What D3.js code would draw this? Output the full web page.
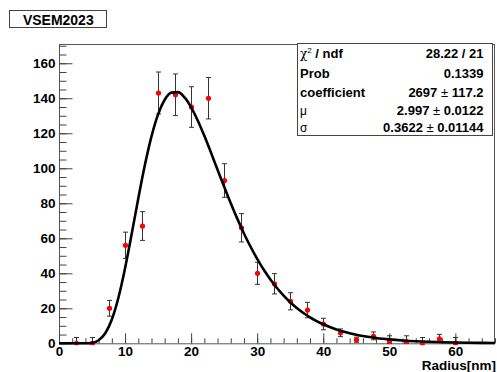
<!DOCTYPE html>
<html><head><meta charset="utf-8">
<script src="https://cdn.jsdelivr.net/npm/d3@7/dist/d3.min.js"></script>
<style>
html,body{margin:0;padding:0;background:#fff;}
svg{display:block;font-family:"Liberation Sans",Arial,Helvetica,sans-serif;}
</style></head>
<body>
<script>
// ---- data ----
const title = "VSEM2023";
const xLabel = "Radius[nm]";
const binCenters = [2.5,5,7.5,10,12.5,15,17.5,20,22.5,25,27.5,30,32.5,35,37.5,40,42.5,45,47.5,50,52.5,55,57.5,60];
const counts     = [0,0,20,56,67,143,142,135,140,93,66,40,34,24,19,11,6,2,4,1,1,0,2.5,0];
const errUp      = [3.3,3.3,4.5,7.5,8.2,12,11.9,11.6,11.8,9.6,8.1,6.3,5.8,4.9,4.4,3.3,2.2,1.5,2.5,3.3,3.3,3.3,2.6,3.3];
const errDown    = [0,0,4.5,7.5,8.2,12,11.9,11.6,11.8,9.6,8.1,6.3,5.8,4.9,4.4,3.3,2.2,1.4,2,1,1,0,1.9,0];
// fitted curve samples (as drawn)
const fitX = [0,1,2,3,4,5,6,7,8,9,10,11,12,13,14,15,16,17,18,19,20,21,22,23,24,25,26,27,28,29,30,31,32,33,34,35,36,37,38,39,40,41,42,43,44,45,46,47,48,49,50,52,54,56,58,60,62,64,66];
const fitY = [0,0,0,0,0.03,0.35,1.77,5.72,13.62,26.18,42.93,62.42,82.73,101.84,118.22,130.82,139.13,143.22,143.48,140.46,134.85,127.33,118.53,108.99,99.17,89.42,80.0,71.08,62.77,55.15,48.23,42.02,36.49,31.58,27.26,23.49,20.19,17.33,14.85,12.71,10.87,9.29,7.93,6.77,5.78,4.93,4.20,3.58,3.05,2.60,2.22,1.61,1.17,0.86,0.63,0.46,0.34,0.25,0.18];
const xMajorTicks = [0,10,20,30,40,50,60];
const yMajorTicks = [0,20,40,60,80,100,120,140,160];
const statNames  = ["chi2","Prob","coefficient","mu","sigma"];
const statValues = ["28.22 / 21","0.1339","2697 \u00b1 117.2","2.997 \u00b1 0.0122","0.3622 \u00b1 0.01144"];

// ---- layout ----
const W = 497, H = 372;
const L = 59, R = 495, T = 44, B = 343.3;
const svg = d3.select("body").append("svg").attr("width", W).attr("height", H);
svg.append("rect").attr("width", W).attr("height", H).attr("fill", "#fff");

const x = d3.scaleLinear().domain([0, 66]).range([L, R]);
const y = d3.scaleLinear().domain([0, 171]).range([B, T]);

svg.append("defs").append("clipPath").attr("id", "clip")
  .append("rect").attr("x", L).attr("y", T).attr("width", R - L).attr("height", B - T + 2);

// frame
svg.append("rect").attr("x", L + 0.5).attr("y", T + 0.5).attr("width", R - L - 1).attr("height", B - T)
  .attr("fill", "none").attr("stroke", "#555").attr("stroke-width", 1);

const tickColor = "#444";
// y minor ticks
const gyMinor = svg.append("g").attr("transform", `translate(${L + 0.5},0)`)
  .call(d3.axisLeft(y).tickValues(d3.range(0, 171, 5)).tickSize(-7).tickFormat(""));
gyMinor.select(".domain").remove();
gyMinor.selectAll("line").attr("stroke", tickColor);
// y major ticks
const gy = svg.append("g").attr("transform", `translate(${L + 0.5},0)`)
  .call(d3.axisLeft(y).tickValues(yMajorTicks).tickSize(-13).tickPadding(4).tickFormat(d3.format("d")));
gy.select(".domain").remove();
gy.selectAll("line").attr("stroke", tickColor);
gy.selectAll("text").attr("font-size", 13.5).attr("font-weight", "bold").attr("fill", "#000")
  .attr("font-family", "Liberation Sans, Arial, sans-serif");

// x minor ticks
const gxMinor = svg.append("g").attr("transform", `translate(0,${B})`)
  .call(d3.axisBottom(x).tickValues(d3.range(0, 67, 2)).tickSize(-5).tickFormat(""));
gxMinor.select(".domain").remove();
gxMinor.selectAll("line").attr("stroke", tickColor);
// x major ticks
const gx = svg.append("g").attr("transform", `translate(0,${B})`)
  .call(d3.axisBottom(x).tickValues(xMajorTicks).tickSize(-10).tickPadding(3).tickFormat(d3.format("d")));
gx.select(".domain").remove();
gx.selectAll("line").attr("stroke", tickColor);
gx.selectAll("text").attr("font-size", 13.5).attr("font-weight", "bold").attr("fill", "#000")
  .attr("font-family", "Liberation Sans, Arial, sans-serif").attr("dy", "0.72em").attr("y", 3);

// axis title
svg.append("text").attr("x", 496).attr("y", 369.5).attr("text-anchor", "end")
  .attr("font-size", 13.5).attr("font-weight", "bold").text(xLabel);

// data
const plot = svg.append("g").attr("clip-path", "url(#clip)");
const pts = binCenters.map((c, i) => ({c, v: counts[i], up: errUp[i], dn: errDown[i]}));
const eb = plot.append("g").attr("stroke", "#333").attr("stroke-width", 1);
pts.forEach(p => {
  const xc = Math.round(x(p.c)) + 0.5;
  eb.append("line").attr("x1", xc).attr("x2", xc).attr("y1", y(p.v + p.up)).attr("y2", y(p.v - p.dn));
  eb.append("line").attr("x1", xc - 2.5).attr("x2", xc + 2.5).attr("y1", y(p.v + p.up)).attr("y2", y(p.v + p.up));
  if (p.dn > 0) eb.append("line").attr("x1", xc - 2.5).attr("x2", xc + 2.5).attr("y1", y(p.v - p.dn)).attr("y2", y(p.v - p.dn));
});
plot.append("g").selectAll("circle").data(pts).join("circle")
  .attr("cx", d => Math.round(x(d.c)) + 0.5).attr("cy", d => y(d.v)).attr("r", 2.6).attr("fill", "#ff0000");

const fit = fitX.map((v, i) => [v, fitY[i]]);
plot.append("path").datum(fit)
  .attr("d", d3.line().x(d => x(d[0])).y(d => y(d[1])).curve(d3.curveMonotoneX))
  .attr("fill", "none").attr("stroke", "#000").attr("stroke-width", 2.6);

// title box
svg.append("rect").attr("x", 9.5).attr("y", 10.5).attr("width", 97).attr("height", 17)
  .attr("fill", "#fff").attr("stroke", "#444");
svg.append("text").attr("x", 58.3).attr("y", 25).attr("text-anchor", "middle")
  .attr("font-size", 14).attr("font-weight", "bold").text(title);

// stats box
const sb = svg.append("g");
sb.append("rect").attr("x", 297.5).attr("y", 43.5).attr("width", 195).attr("height", 92)
  .attr("fill", "#fff").attr("stroke", "#444");
const rowY = [58.3, 77.8, 97.2, 114.8, 131.7];
statNames.forEach((n, i) => {
  const t = sb.append("text").attr("x", 300).attr("y", rowY[i]).attr("font-size", 13).attr("font-weight", "bold");
  if (n === "chi2") {
    t.append("tspan").attr("font-weight", "normal").attr("font-family", "DejaVu Serif, serif").attr("font-size", 12).text("\u03c7");
    t.append("tspan").attr("font-weight", "normal").attr("font-size", 8).attr("dy", -5).text("2");
    t.append("tspan").attr("dy", 5).text(" / ndf");
  } else if (n === "mu") {
    t.append("tspan").attr("font-weight", "normal").attr("font-size", 12).text("\u03bc");
  } else if (n === "sigma") {
    t.append("tspan").attr("font-weight", "normal").attr("font-size", 12).text("\u03c3");
  } else {
    t.text(n);
  }
  const v = statValues[i];
  const tv = sb.append("text").attr("x", 483.5).attr("y", rowY[i]).attr("text-anchor", "end")
    .attr("font-size", 13).attr("font-weight", "bold");
  if (v.includes("\u00b1")) {
    const parts = v.split("\u00b1");
    tv.append("tspan").text(parts[0]);
    tv.append("tspan").attr("font-weight", "normal").text("\u00b1");
    tv.append("tspan").text(parts[1]);
  } else {
    tv.text(v);
  }
});
</script>
</body></html>
